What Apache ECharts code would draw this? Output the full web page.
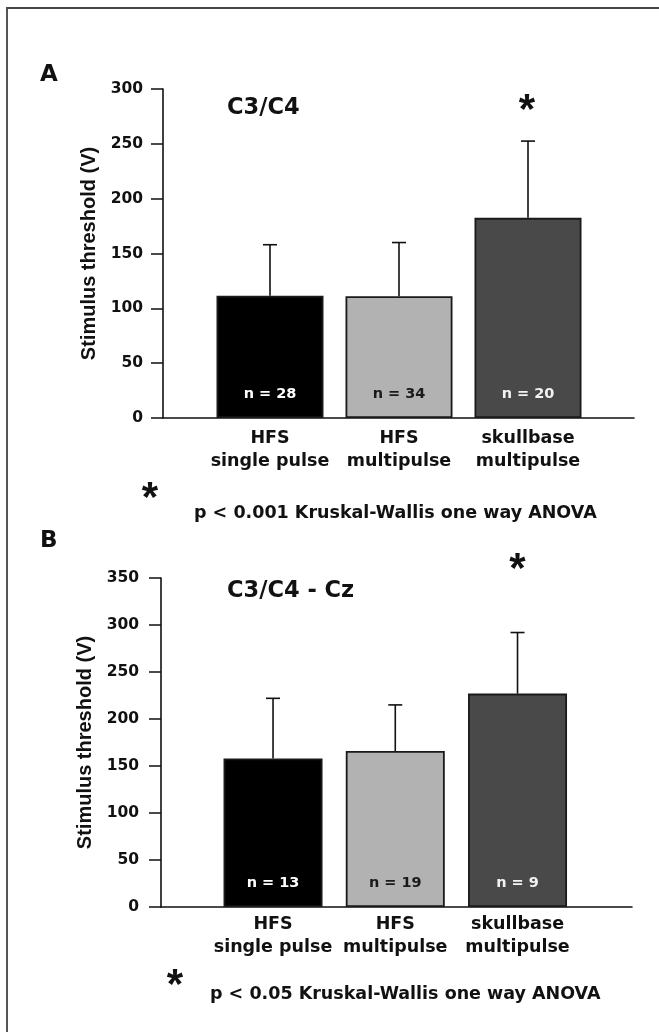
<!DOCTYPE html>
<html>
<head>
<meta charset="utf-8">
<script src="https://cdn.jsdelivr.net/npm/echarts@6/dist/echarts.min.js"></script>
<style>
html,body{margin:0;padding:0;background:#fff;}
#chart{width:659px;height:1032px;}
</style>
</head>
<body>
<div id="chart"></div>
<script>
// ---- data ----
const categories = ['HFS\nsingle pulse', 'HFS\nmultipulse', 'skullbase\nmultipulse'];
const barColors = ['#000000', '#b2b2b2', '#494949'];
const nLabelColors = ['#ffffff', '#1a1a1a', '#f2f2f2'];

const meanA = [111.5, 111, 182.5];
const errTopA = [158, 160, 252.5];
const nA = [28, 34, 20];
const yMaxA = 300;

const meanB = [158, 166, 227];
const errTopB = [222, 215, 292];
const nB = [13, 19, 9];
const yMaxB = 350;

const yInterval = 50;

const panelTitles = ['C3/C4', 'C3/C4 - Cz'];
const panelLetters = ['A', 'B'];
const pTexts = ['p < 0.001 Kruskal-Wallis one way ANOVA', 'p < 0.05 Kruskal-Wallis one way ANOVA'];
const yName = 'Stimulus threshold (V)';

// ---- layout ----
const FONT = '"DejaVu Sans", sans-serif';
const FONT_ARIAL = '"Liberation Sans", Arial, sans-serif';
const panels = [
  { axes: {left:163, top:89, width:471, height:329}, bars: {left:205.5, top:89, width:387, height:329},
    mean: meanA, err: errTopA, n: nA, max: yMaxA, barWidth: 107, labelMargin: 9, tickMargin: 20, nameGap: 64 },
  { axes: {left:161, top:578, width:471, height:329}, bars: {left:211.9, top:578, width:366.75, height:329},
    mean: meanB, err: errTopB, n: nB, max: yMaxB, barWidth: 99, labelMargin: 6, tickMargin: 22, nameGap: 66 }
];

const grid = [], xAxis = [], yAxis = [], series = [];
panels.forEach((p, k) => {
  const gAxes = grid.length;
  grid.push(Object.assign({containLabel:false}, p.axes));
  const gBars = grid.length;
  grid.push(Object.assign({containLabel:false}, p.bars));

  // axes grid: visible y axis + long x axis line
  xAxis.push({ gridIndex: gAxes, type: 'value', min: 0, max: 1,
    axisLine: {show:true, onZero:false, lineStyle:{color:'#111', width:1.6}},
    axisTick:{show:false}, axisLabel:{show:false}, splitLine:{show:false} });
  yAxis.push({ gridIndex: gAxes, type: 'value', min: 0, max: p.max, interval: yInterval,
    name: yName, nameLocation: 'middle', nameRotate: 90, nameGap: p.nameGap,
    nameTextStyle: {fontFamily: FONT_ARIAL, fontWeight: 'bold', fontSize: 20, color: '#111'},
    axisLine: {show:true, lineStyle:{color:'#111', width:1.6}},
    axisTick: {show:true, inside:false, length:12, lineStyle:{color:'#111', width:1.5}},
    axisLabel: {fontFamily: FONT, fontWeight:'bold', fontSize:15.5, color:'#111', margin: p.tickMargin},
    splitLine: {show:false} });

  // bars grid: category axis (labels only)
  const xi = xAxis.length;
  xAxis.push({ gridIndex: gBars, type: 'category', data: categories,
    axisLine:{show:false}, axisTick:{show:false},
    axisLabel:{fontFamily: FONT, fontWeight:'bold', fontSize:17.5, lineHeight:23, color:'#111',
      margin: p.labelMargin, interval: 0} });
  const yi = yAxis.length;
  yAxis.push({ gridIndex: gBars, type:'value', min:0, max:p.max, interval: yInterval, show:false });

  series.push({ type:'bar', xAxisIndex: xi, yAxisIndex: yi, barWidth: p.barWidth,
    data: p.mean.map((v, i) => ({ value: v,
      itemStyle: {color: barColors[i], borderColor:'#1a1a1a', borderWidth:1.8},
      label: {show:true, position:'insideBottom', distance: 16,
        formatter: 'n = ' + p.n[i], color: nLabelColors[i],
        fontFamily: FONT, fontWeight:'bold', fontSize:14.5} })),
    animation:false, z: 2 });

  series.push({ type:'custom', xAxisIndex: xi, yAxisIndex: yi, z: 3,
    data: p.mean.map((v, i) => [i, v, p.err[i]]),
    renderItem: function(params, api) {
      const base = api.coord([api.value(0), api.value(1)]);
      const top = api.coord([api.value(0), api.value(2)]);
      const cap = 7;
      const st = {stroke:'#111', lineWidth:1.6};
      return { type:'group', children: [
        { type:'line', shape:{x1:base[0], y1:base[1], x2:top[0], y2:top[1]}, style: st },
        { type:'line', shape:{x1:top[0]-cap, y1:top[1], x2:top[0]+cap, y2:top[1]}, style: st }
      ]};
    }, animation:false });
});

const txt = (text, x, y, size, opts) => Object.assign({ type:'text', x: x, y: y,
  style: Object.assign({ text: text, fontFamily: FONT, fontWeight:'bold', fontSize: size,
    fill:'#111', textVerticalAlign:'middle', textAlign:'left' }, opts || {}) });
const star = (x, y) => txt('*', x, y, 42, {textAlign:'center', fontFamily: FONT_ARIAL});

const graphic = [
  { type:'rect', shape:{x:7, y:8, width:700, height:1100}, style:{fill:'none', stroke:'#444', lineWidth:1.8} },
  txt(panelLetters[0], 40, 75, 23),
  txt(panelLetters[1], 40, 541, 23),
  txt(panelTitles[0], 227, 108, 22.5),
  txt(panelTitles[1], 227, 591, 22.5),
  star(527, 111),
  star(517.5, 570),
  star(150, 499),
  star(175, 986),
  txt(pTexts[0], 194, 513, 17.5),
  txt(pTexts[1], 210, 994, 17.5)
];

const chart = echarts.init(document.getElementById('chart'), null, {renderer:'canvas'});
chart.setOption({ backgroundColor:'#fff', animation:false, grid, xAxis, yAxis, series, graphic });
</script>
</body>
</html>
